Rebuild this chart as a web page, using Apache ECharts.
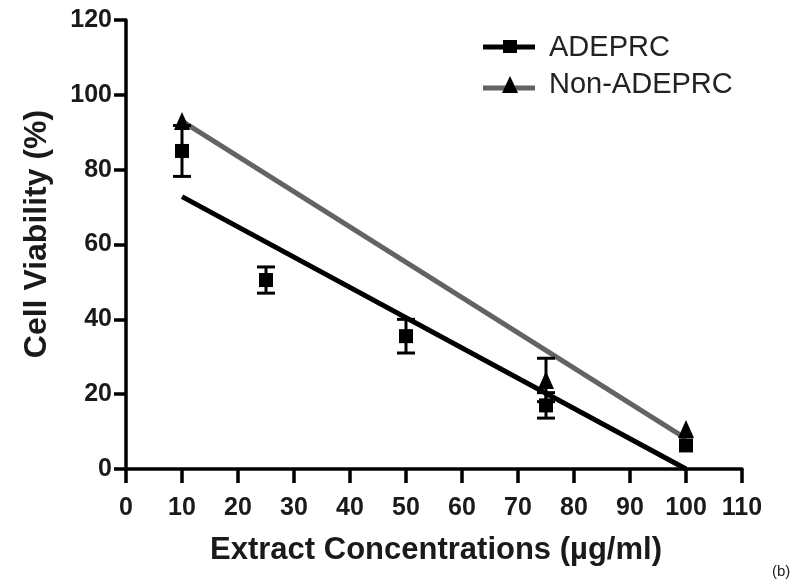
<!DOCTYPE html>
<html><head><meta charset="utf-8">
<script src="https://cdn.jsdelivr.net/npm/echarts@6/dist/echarts.min.js"></script>
<style>html,body{margin:0;padding:0;background:#fff}#c{width:800px;height:585px}</style>
</head><body><div id="c"></div>
<script>
var concentrations = [10, 25, 50, 75, 100];
var adeprcMean = [85, 50.5, 35.5, 17, 6.3];
var adeprcErr = [6.8, 3.5, 4.5, 3.4, 0];
var nonConc = [10, 75, 100];
var nonMean = [93, 23.8, 10.7];
var nonErr = [0, 5.8, 0];
var fitX = [10, 100];
var adeprcFit = [72.8, 0];
var nonFit = [93, 8.1];
var xTicks = [0, 10, 20, 30, 40, 50, 60, 70, 80, 90, 100, 110];
var yTicks = [0, 20, 40, 60, 80, 100, 120];

function pairs(xs, ys){ return xs.map(function(x,i){return [x, ys[i]];}); }
function errData(xs, ys, es){ return xs.map(function(x,i){return [x, ys[i]-es[i], ys[i]+es[i]];}); }
function errRender(color){
  return function(params, api){
    var x = api.value(0);
    if (api.value(2) - api.value(1) <= 0) return null;
    var lo = api.coord([x, api.value(1)]);
    var hi = api.coord([x, api.value(2)]);
    var w = 9;
    var st = {stroke: color, lineWidth: 3};
    return {type:'group', children:[
      {type:'line', shape:{x1:lo[0],y1:lo[1],x2:hi[0],y2:hi[1]}, style:st},
      {type:'line', shape:{x1:lo[0]-w,y1:lo[1],x2:lo[0]+w,y2:lo[1]}, style:st},
      {type:'line', shape:{x1:hi[0]-w,y1:hi[1],x2:hi[0]+w,y2:hi[1]}, style:st}
    ]};
  };
}
var chart = echarts.init(document.getElementById('c'));
var font = '"Liberation Sans", Arial, sans-serif';
chart.setOption({
  animation:false,
  grid:{left:126, right:58, top:20, bottom:116},
  xAxis:{type:'value', min:xTicks[0], max:xTicks[xTicks.length-1], interval:10,
    axisLine:{lineStyle:{color:'#000', width:3.5}},
    axisTick:{show:true, length:14, lineStyle:{color:'#000', width:3.5}},
    axisLabel:{fontFamily:font, fontWeight:'bold', fontSize:25, color:'#1a1a1a', margin:27},
    splitLine:{show:false}},
  yAxis:{type:'value', min:yTicks[0], max:yTicks[yTicks.length-1], interval:20,
    axisLine:{lineStyle:{color:'#000', width:3.5}},
    axisTick:{show:true, length:12, lineStyle:{color:'#000', width:3.5}},
    axisLabel:{fontFamily:font, fontWeight:'bold', fontSize:25, color:'#1a1a1a', margin:14},
    splitLine:{show:false}},
  series:[
    {type:'line', data:pairs(fitX, adeprcFit), symbol:'none', lineStyle:{color:'#000', width:5}, z:2},
    {type:'line', data:pairs(fitX, nonFit), symbol:'none', lineStyle:{color:'#636363', width:5}, z:2},
    {type:'custom', data:errData(concentrations, adeprcMean, adeprcErr), renderItem:errRender('#000'), z:3},
    {type:'custom', data:errData(nonConc, nonMean, nonErr), renderItem:errRender('#000'), z:3},
    {type:'scatter', data:pairs(concentrations, adeprcMean), symbol:'rect', symbolSize:14, itemStyle:{color:'#000', opacity:1}, z:4},
    {type:'scatter', data:pairs(nonConc, nonMean), symbol:'triangle', symbolSize:[16,18], itemStyle:{color:'#000', opacity:1}, z:4}
  ],
  graphic:[
    {type:'text', x:37, y:234, rotation:Math.PI/2, style:{text:'Cell Viability (%)', fontFamily:font, fontWeight:'bold', fontSize:32, fill:'#1a1a1a', align:'center', verticalAlign:'middle'}},
    {type:'text', x:436, y:550, style:{text:'Extract Concentrations (µg/ml)', fontFamily:font, fontWeight:'bold', fontSize:31, fill:'#1a1a1a', align:'center', verticalAlign:'middle'}},
    {type:'line', shape:{x1:483,y1:47,x2:535,y2:47}, style:{stroke:'#000', lineWidth:5}},
    {type:'rect', shape:{x:503,y:40,width:14,height:13}, style:{fill:'#000'}},
    {type:'text', style:{text:'ADEPRC', x:549, y:48, fontFamily:font, fontSize:29, fill:'#222', verticalAlign:'middle'}},
    {type:'line', shape:{x1:483,y1:88,x2:535,y2:88}, style:{stroke:'#636363', lineWidth:5}},
    {type:'polygon', shape:{points:[[510,76],[502,93],[518,93]]}, style:{fill:'#000'}},
    {type:'text', style:{text:'Non-ADEPRC', x:549, y:85, fontFamily:font, fontSize:29, fill:'#222', verticalAlign:'middle'}},
    {type:'text', style:{text:'(b)', x:772, y:572, fontFamily:font, fontSize:15, fill:'#222', verticalAlign:'middle'}}
  ]
});
</script></body></html>
